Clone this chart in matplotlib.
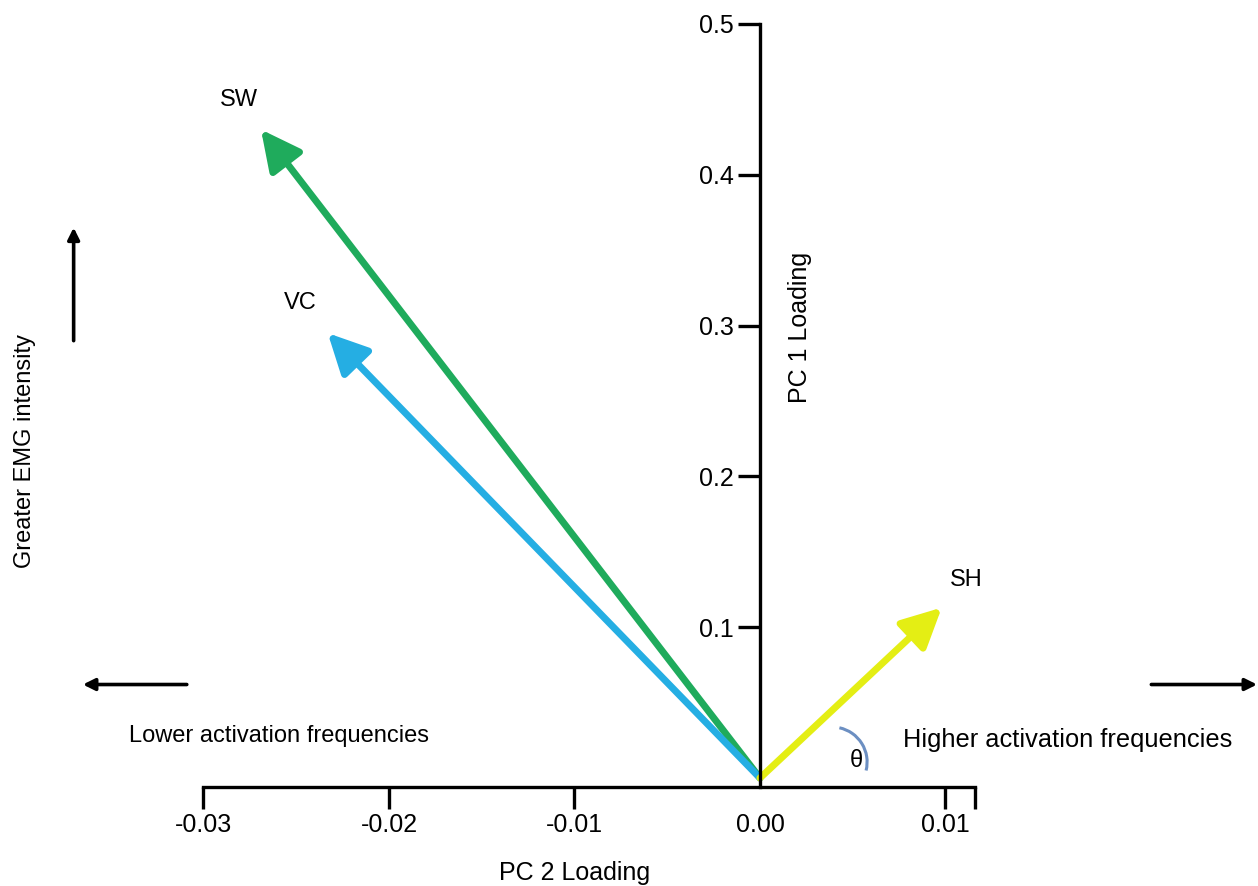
import numpy as np
import matplotlib.pyplot as plt
from matplotlib.patches import FancyArrowPatch, Arc
from matplotlib.transforms import ScaledTranslation

plt.rcParams['font.family'] = ['Liberation Sans', 'DejaVu Sans']

# данные: нагрузки PC2 (x) и PC1 (y) для каждой мышцы
muscles = ['SW', 'VC', 'SH']
pc2_loading = [-0.0269, -0.0233, 0.0098]
pc1_loading = [0.430, 0.295, 0.113]
colors = ['#1fab5c', '#25aee3', '#e4ee14']
label_offsets = [(-22, 30), (-27, 30), (25, 28)]

x_ticks = [-0.03, -0.02, -0.01, 0.00, 0.01]
x_ticklabels = ['-0.03', '-0.02', '-0.01', '0.00', '0.01']
y_ticks = [0.1, 0.2, 0.3, 0.4, 0.5]
y_ticklabels = ['0.1', '0.2', '0.3', '0.4', '0.5']

fig = plt.figure(figsize=(12.58, 8.86), dpi=100)
ax = fig.add_axes([0, 0, 1, 1])
ax.set_xlim(-0.04097, 0.02685)
ax.set_ylim(-0.0716, 0.5159)

# оси как скобки
for s in ['top', 'right']:
    ax.spines[s].set_visible(False)
ax.spines['left'].set_position(('data', 0))
ax.spines['left'].set_bounds(-0.006, 0.5)
ax.spines['bottom'].set_position(('data', -0.006))
ax.spines['bottom'].set_bounds(-0.03, 0.0116)
for s in ['left', 'bottom']:
    ax.spines[s].set_linewidth(2.4)

ax.set_xticks(x_ticks + [0.0116])
ax.set_xticklabels(x_ticklabels + [''])
ax.set_yticks(y_ticks)
ax.set_yticklabels(y_ticklabels)
ax.tick_params(axis='both', direction='out', length=16, width=2.4, labelsize=18, pad=3)
ax.xaxis.get_major_ticks()[3].tick1line.set_visible(False)

ax.text(-0.0100, -0.0633, 'PC 2 Loading', ha='center', va='center', fontsize=18)
ax.text(0.00215, 0.2985, 'PC 1 Loading', ha='center', va='center', rotation=90, fontsize=18)

# векторы
for name, x, y, c, off in zip(muscles, pc2_loading, pc1_loading, colors, label_offsets):
    arr = FancyArrowPatch((0, 0), (x, y), arrowstyle='-|>,head_length=1.1,head_width=0.55',
                          mutation_scale=22, lw=5, color=c, shrinkA=0, shrinkB=0)
    ax.add_patch(arr)
    ax.annotate(name, xy=(x, y), xytext=off, textcoords='offset pixels',
                ha='center', va='center', fontsize=17)

# угол θ (дуга в дюймах вокруг точки в данных)
arc_tr = fig.dpi_scale_trans + ScaledTranslation(0.00389, 0.0106, ax.transData)
ax.add_patch(Arc((0, 0), 0.70, 0.70, theta1=-14, theta2=78, color='#6c8fc2', lw=2.2,
                 transform=arc_tr))
ax.text(0.0052, 0.011, 'θ', ha='center', va='center', fontsize=17)

# подписи направлений
ax.text(-0.0340, 0.028, 'Lower activation frequencies', ha='left', va='center', fontsize=17)
ax.text(0.0077, 0.025, 'Higher activation frequencies', ha='left', va='center', fontsize=18.3)
ax.text(-0.0396, 0.217, 'Greater EMG intensity', ha='center', va='center', rotation=90, fontsize=17)

arrow_kw = dict(arrowstyle='-|>,head_length=0.7,head_width=0.35', lw=2.6, color='black',
                shrinkA=0, shrinkB=0)
ax.annotate('', xy=(-0.0365, 0.062), xytext=(-0.0309, 0.062), arrowprops=arrow_kw)
ax.annotate('', xy=(0.0268, 0.062), xytext=(0.0211, 0.062), arrowprops=arrow_kw)
ax.annotate('', xy=(-0.0370, 0.365), xytext=(-0.0370, 0.290), arrowprops=arrow_kw)

fig.savefig('out.png', dpi=100)
